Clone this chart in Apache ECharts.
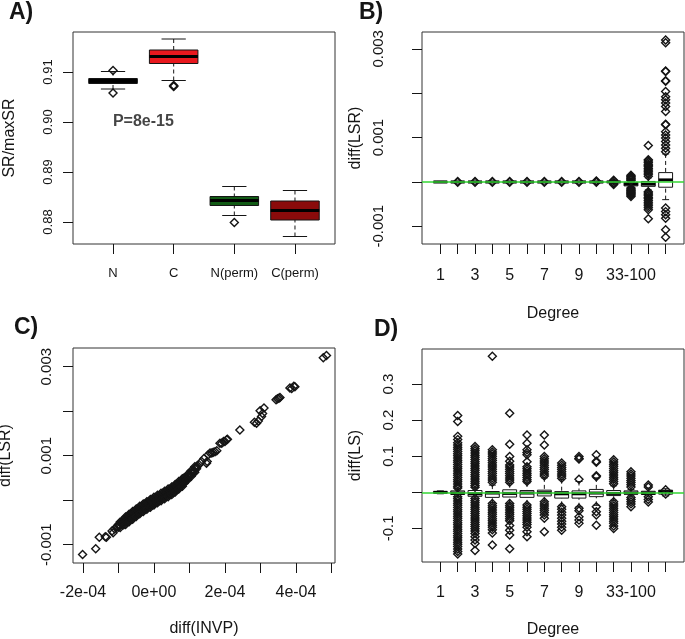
<!DOCTYPE html>
<html><head><meta charset="utf-8">
<script src="https://cdn.jsdelivr.net/npm/echarts@6.0.0/dist/echarts.min.js"></script>
<style>html,body{margin:0;padding:0;background:#fff}#c{width:685px;height:639px}</style>
</head><body><div id="c"></div>
<script>
// ---------------- DATA ----------------
// Panel A
const aCats = ['N', 'C', 'N(perm)', 'C(perm)'];
// [whiskerLow, q1, median, q3, whiskerHigh]
const aBoxStats = [
  [0.9066, 0.9077, 0.9082, 0.9087, 0.9101],
  [0.9083, 0.9117, 0.9131, 0.9144, 0.9166],
  [0.8813, 0.8833, 0.8843, 0.8851, 0.8871],
  [0.8771, 0.8804, 0.8823, 0.8842, 0.8863]
];
const aOutliers = [[0.9103, 0.9058], [0.9071, 0.9072, 0.9073], [0.8799], []];
const aYTicks = [0.88, 0.89, 0.90, 0.91];
const aNote = 'P=8e-15';
const aNotePos = [1.5, 0.90];

// Panels B & D share the degree classes
const degreeTickLabels = ['1', '', '3', '', '5', '', '7', '', '9', '', '', '33-100', '', ''];

// Panel B
const bBoxStats = [
  [-0.00001, -0.000005, 0, 0.000005, 0.00001],
  [-0.000008, -0.000004, 0, 0.000004, 0.000008],
  [-0.000008, -0.000004, 0, 0.000004, 0.000008],
  [-0.000008, -0.000004, 0, 0.000004, 0.000008],
  [-0.000008, -0.000004, 0, 0.000004, 0.000008],
  [-0.000008, -0.000004, 0, 0.000004, 0.000008],
  [-0.000008, -0.000004, 0, 0.000004, 0.000008],
  [-0.000008, -0.000004, 0, 0.000004, 0.000008],
  [-0.000008, -0.000004, 0, 0.000004, 0.000008],
  [-0.000008, -0.000004, 0, 0.000004, 0.000008],
  [-0.00002, -0.00001, 0, 0.00001, 0.00002],
  [-0.00012, -0.00009, -0.00005, -0.00001, 0.00002],
  [-0.00018, -0.00010, -0.00005, 0.00001, 0.00009],
  [-0.00040, -0.00012, 0.000045, 0.00021, 0.00063]
];
const bOutliers = [
  [],
  [0.00001, -0.00001], [0.00001, -0.00001], [0.00001, -0.00001], [0.00001, -0.00001],
  [0.00001, -0.00001], [0.00001, -0.00001], [0.00001, -0.00001], [0.00001, -0.00001],
  [0.00002, 0.00001, -0.00001],
  [0.00004, 0.00002, -0.00002, -0.00004, -0.00006],
  [0.00015, 0.00013, 0.00011, 0.00009, 0.00007, 0.00005, 0.00003, -0.00014, -0.00016, -0.00018,
   -0.00020, -0.00022, -0.00024, -0.00026, -0.00028, -0.00030, -0.00033],
  [0.00082, 0.00050, 0.00047, 0.00044, 0.00040, 0.00037, 0.00034, 0.00030, 0.00027, 0.00024,
   0.00020, 0.00017, 0.00013, -0.00022, -0.00025, -0.00028, -0.00031, -0.00035, -0.00038,
   -0.00042, -0.00046, -0.00050, -0.00054, -0.00058, -0.00063, -0.00083],
  [0.00320, 0.00314, 0.00250, 0.00249, 0.00228, 0.00227, 0.00204, 0.00192, 0.00185, 0.00178,
   0.00170, 0.00159, 0.00130, 0.00129, 0.00113, 0.00106, 0.00099, 0.00091, 0.00083, 0.00076,
   0.00068, -0.00059, -0.00067, -0.00074, -0.00082, -0.00108, -0.00125]
];
const bYTicks = [-0.001, 0, 0.001, 0.002, 0.003];
const bYLabels = [-0.001, 0.001, 0.003];

// Panel C: points as [diff(INVP) in 1e-4, diff(LSR) in 1e-3]
const cPoints = [
  [-2.01,-1.22],[-1.64,-1.09],[-1.54,-0.83],[-1.37,-0.82],[-1.34,-0.83],[-1.15,-0.73],
  [-1.18,-0.69],[-1.11,-0.64],[-1.04,-0.60],[-0.97,-0.56],[-0.90,-0.52],[-0.83,-0.48],
  [-0.76,-0.44],[-0.69,-0.39],[-0.62,-0.35],[-0.55,-0.31],[-0.48,-0.27],[-0.41,-0.23],
  [-0.34,-0.19],[-0.27,-0.16],[-0.20,-0.12],[-0.13,-0.09],[-0.06,-0.05],[0.01,-0.01],
  [0.08,0.02],[0.15,0.05],[0.22,0.08],[0.29,0.11],[0.36,0.15],[0.43,0.18],[0.50,0.21],
  [0.57,0.25],[0.64,0.30],[0.71,0.34],[0.78,0.39],[0.85,0.44],[0.92,0.50],[0.99,0.55],
  [1.06,0.61],[1.13,0.67],[1.20,0.74],[1.27,0.80],[1.34,0.87],[1.41,0.94],
  [-0.95,-0.49],[-0.85,-0.43],[-0.75,-0.37],[-0.65,-0.31],[-0.55,-0.25],[-0.45,-0.19],
  [-0.35,-0.135],[-0.25,-0.085],[-0.15,-0.035],[-0.05,0.015],[0.05,0.063],[0.15,0.109],
  [0.25,0.156],[0.35,0.202],[0.45,0.248],[0.55,0.296],[0.65,0.362],[0.75,0.427],
  [0.85,0.50],[0.95,0.58],[1.05,0.66],[1.15,0.75],
  [-0.95,-0.61],[-0.85,-0.55],[-0.75,-0.49],[-0.65,-0.43],[-0.55,-0.37],[-0.45,-0.31],
  [-0.35,-0.255],[-0.25,-0.205],[-0.15,-0.155],[-0.05,-0.105],[0.05,-0.057],[0.15,-0.011],
  [0.25,0.036],[0.35,0.082],[0.45,0.128],[0.55,0.176],[0.65,0.242],[0.75,0.307],
  [0.85,0.38],[0.95,0.46],[1.05,0.54],[1.15,0.63],
  [-1.00,-0.545],[-0.90,-0.488],[-0.80,-0.43],[-0.70,-0.37],[-0.60,-0.31],[-0.50,-0.25],
  [-0.40,-0.19],[-0.30,-0.14],[-0.20,-0.09],[-0.10,-0.04],[0.00,0.01],[0.10,0.056],
  [0.20,0.103],[0.30,0.149],[0.40,0.195],[0.50,0.241],[0.60,0.299],[0.70,0.365],
  [0.80,0.43],[0.90,0.51],[1.00,0.59],[1.10,0.67],[1.20,0.766],
  [-1.00,-0.605],[-0.90,-0.548],[-0.80,-0.49],[-0.70,-0.43],[-0.60,-0.37],[-0.50,-0.31],
  [-0.40,-0.25],[-0.30,-0.20],[-0.20,-0.15],[-0.10,-0.10],[0.00,-0.05],[0.10,-0.004],
  [0.20,0.043],[0.30,0.089],[0.40,0.135],[0.50,0.181],[0.60,0.239],[0.70,0.305],
  [0.80,0.37],[0.90,0.45],[1.00,0.53],[1.10,0.61],[1.20,0.706],
  [-0.80,-0.375],[-0.70,-0.315],[-0.60,-0.255],[-0.50,-0.195],[-0.40,-0.135],[-0.30,-0.085],
  [-0.20,-0.035],[-0.10,0.015],[0.00,0.065],[0.10,0.111],[0.20,0.158],[0.30,0.204],
  [0.40,0.25],[0.50,0.296],[0.60,0.354],[0.70,0.42],[0.80,0.485],
  [-0.80,-0.545],[-0.70,-0.485],[-0.60,-0.425],[-0.50,-0.365],[-0.40,-0.305],[-0.30,-0.255],
  [-0.20,-0.205],[-0.10,-0.155],[0.00,-0.105],[0.10,-0.059],[0.20,-0.012],[0.30,0.034],
  [0.40,0.08],[0.50,0.126],[0.60,0.184],[0.70,0.25],[0.80,0.315],
  [0.91,0.455],[1.48,0.83],
  [1.50,0.87],[1.53,1.02],[1.58,1.06],[1.63,1.06],[1.67,1.08],[1.72,1.09],[1.77,1.11],
  [1.86,1.28],[1.91,1.28],[1.96,1.32],[2.00,1.32],[2.05,1.36],[2.07,1.37],
  [2.42,1.58],
  [2.83,1.75],[2.89,1.73],[2.94,1.78],[2.99,2.01],[3.03,1.88],[3.06,1.95],[3.10,2.07],
  [3.44,2.26],[3.48,2.28],[3.52,2.29],[3.55,2.31],
  [3.83,2.52],[3.88,2.51],[3.94,2.56],[3.97,2.55],
  [4.77,3.20],[4.86,3.25]
];
const cXTicks = [-2e-4, -1e-4, 0, 1e-4, 2e-4, 3e-4, 4e-4, 5e-4];
const cXLabelVals = [-2e-4, 0, 2e-4, 4e-4];
const cXLabelText = ['-2e-04', '0e+00', '2e-04', '4e-04'];
const cYTicks = [-0.001, 0, 0.001, 0.002, 0.003];
const cYLabels = [-0.001, 0.001, 0.003];

// Panel D
const dBoxStats = [
  [-0.004, -0.002, 0, 0.002, 0.004],
  [-0.012, -0.006, -0.002, 0.004, 0.010],
  [-0.018, -0.011, -0.004, 0.005, 0.013],
  [-0.028, -0.014, -0.002, 0.002, 0.020],
  [-0.030, -0.013, -0.003, 0.007, 0.024],
  [-0.032, -0.014, -0.002, 0.005, 0.026],
  [-0.024, -0.010, -0.001, 0.006, 0.040],
  [-0.036, -0.016, -0.004, 0.002, 0.035],
  [-0.040, -0.016, -0.004, 0.004, 0.030],
  [-0.036, -0.012, -0.002, 0.008, 0.040],
  [-0.022, -0.009, -0.003, 0.005, 0.018],
  [-0.010, -0.005, -0.002, 0.004, 0.008],
  [-0.010, -0.006, -0.002, 0.003, 0.012],
  [-0.010, -0.005, 0.002, 0.006, 0.010]
];
const dOutliers = [
  [],
  [0.213,0.196,0.155,0.146,0.137,0.131,0.125,0.119,0.113,0.107,0.101,0.095,0.089,0.083,0.077,0.071,
   0.065,0.059,0.053,0.047,0.041,0.035,0.029,0.023,0.017,0.012,-0.012,-0.018,-0.024,-0.030,-0.036,
   -0.042,-0.048,-0.054,-0.060,-0.066,-0.072,-0.078,-0.084,-0.090,-0.096,-0.102,-0.108,-0.114,-0.120,
   -0.126,-0.132,-0.138,-0.144,-0.150,-0.157,-0.164,-0.171],
  [0.127,0.121,0.115,0.109,0.103,0.097,0.091,0.085,0.079,0.073,0.067,0.061,0.055,0.049,0.043,0.037,
   0.031,0.025,0.019,0.014,-0.017,-0.023,-0.029,-0.035,-0.041,-0.047,-0.053,-0.059,-0.065,-0.071,
   -0.077,-0.083,-0.089,-0.095,-0.101,-0.107,-0.114,-0.123,-0.132,-0.142,-0.161],
  [0.377,0.118,0.112,0.106,0.100,0.094,0.088,0.082,0.076,0.070,0.064,0.058,0.052,0.046,0.040,0.034,
   0.028,-0.031,-0.037,-0.043,-0.049,-0.055,-0.061,-0.067,-0.073,-0.079,-0.085,-0.091,-0.097,-0.104,
   -0.113,-0.146],
  [0.219,0.133,0.099,0.086,0.076,0.070,0.064,0.058,0.052,0.046,0.040,0.034,0.028,-0.031,-0.037,-0.043,
   -0.049,-0.055,-0.061,-0.067,-0.073,-0.079,-0.092,-0.105,-0.118,-0.156],
  [0.159,0.136,0.118,0.110,0.104,0.085,0.071,0.065,0.059,0.053,0.047,0.041,0.035,0.030,-0.035,-0.041,
   -0.047,-0.053,-0.059,-0.065,-0.071,-0.077,-0.083,-0.089,-0.097,-0.109,-0.123],
  [0.159,0.131,0.099,0.093,0.087,0.081,0.075,0.069,0.063,0.057,0.051,0.045,-0.026,-0.032,-0.038,
   -0.044,-0.050,-0.056,-0.063,-0.072,-0.109],
  [0.081,0.075,0.069,0.063,0.057,0.051,0.045,0.039,-0.040,-0.047,-0.055,-0.063,-0.072,-0.080,-0.088,
   -0.097,-0.105],
  [0.099,0.094,0.092,0.036,-0.044,-0.051,-0.068,-0.077,-0.086],
  [0.104,0.086,0.083,0.046,0.043,-0.040,-0.054,-0.063,-0.091],
  [0.090,0.084,0.078,0.072,0.066,0.060,0.054,0.048,0.042,0.036,0.030,0.024,-0.026,-0.032,-0.038,
   -0.044,-0.050,-0.056,-0.062,-0.068,-0.074,-0.080,-0.086,-0.093,-0.100],
  [0.057,0.051,0.045,0.039,0.033,0.027,0.021,0.015,-0.014,-0.020,-0.026,-0.032,-0.040],
  [0.020,0.015,-0.012,-0.020,-0.027],
  [0.007,-0.005]
];
const dYTicks = [-0.1, 0, 0.1, 0.2, 0.3];
const dYLabels = [-0.1, 0.1, 0.2, 0.3];

// ---------------- STYLE ----------------
const FONT = '"Liberation Sans", Arial, Helvetica, sans-serif';
const INK = '#151515';
const aFills = ['#050505', '#e8181e', '#115a14', '#8a0b0b'];
const GREEN = '#33d633';

// ---------------- BUILD ----------------
const aPos = aCats.map((_, i) => i + 1);
const degPos = degreeTickLabels.map((_, i) => i + 1);
const degLabelPos = degPos.filter((p) => degreeTickLabels[p - 1] !== '');

function boxRows(stats) { return stats.map((s, i) => [i + 1].concat(s)); }
function outlierPairs(list) {
  const out = [];
  list.forEach((vals, i) => vals.forEach((v) => out.push([i + 1, v])));
  return out;
}
function boxRender(fills) {
  return function (params, api) {
    const p = api.value(0), lo = api.value(1), q1 = api.value(2), md = api.value(3), q3 = api.value(4), hi = api.value(5);
    const hw = 0.4, cw = 0.2;
    const tl = api.coord([p - hw, q3]), br = api.coord([p + hw, q1]);
    const top = api.coord([p, hi]), bot = api.coord([p, lo]);
    const q3p = api.coord([p, q3]), q1p = api.coord([p, q1]);
    const cL = api.coord([p - cw, hi])[0], cR = api.coord([p + cw, hi])[0];
    const mL = api.coord([p - hw, md]), mR = api.coord([p + hw, md]);
    const fill = fills ? fills[params.dataIndex] : '#ffffff';
    const dash = { stroke: INK, lineWidth: 1, lineDash: [4, 3] };
    const solid = { stroke: INK, lineWidth: 1 };
    return { type: 'group', children: [
      { type: 'line', shape: { x1: top[0], y1: top[1], x2: q3p[0], y2: q3p[1] }, style: dash },
      { type: 'line', shape: { x1: bot[0], y1: bot[1], x2: q1p[0], y2: q1p[1] }, style: dash },
      { type: 'line', shape: { x1: cL, y1: top[1], x2: cR, y2: top[1] }, style: solid },
      { type: 'line', shape: { x1: cL, y1: bot[1], x2: cR, y2: bot[1] }, style: solid },
      { type: 'rect', shape: { x: tl[0], y: tl[1], width: br[0] - tl[0], height: Math.max(br[1] - tl[1], 1) }, style: { fill: fill, stroke: INK, lineWidth: 1 } },
      { type: 'line', shape: { x1: mL[0], y1: mL[1], x2: mR[0], y2: mR[1] }, style: { stroke: '#000', lineWidth: 3 } }
    ] };
  };
}
function near(arr, v) { return arr.findIndex((a) => Math.abs(a - v) < 1e-9); }

function xAx(grid, min, max, ticks, labels, fmt, margin, fs, name, gap) {
  return {
    gridIndex: grid, type: 'value', min: min, max: max,
    axisLine: { show: false, onZero: false }, splitLine: { show: false },
    axisTick: { show: true, inside: false, length: 10, customValues: ticks, lineStyle: { color: INK, width: 1 } },
    axisLabel: { customValues: labels, formatter: fmt, margin: margin, fontSize: fs, color: INK, fontFamily: FONT, hideOverlap: false },
    name: name || '', nameLocation: 'middle', nameGap: gap || 0,
    nameTextStyle: { fontSize: 16, color: INK, fontFamily: FONT }
  };
}
function yAx(grid, min, max, ticks, labels, fmt, margin, fs, name, gap) {
  return {
    gridIndex: grid, type: 'value', min: min, max: max,
    axisLine: { show: false, onZero: false }, splitLine: { show: false },
    axisTick: { show: true, inside: false, length: 10, customValues: ticks, lineStyle: { color: INK, width: 1 } },
    axisLabel: { customValues: labels, formatter: fmt, margin: margin, rotate: 90, align: 'center', verticalAlign: 'bottom',
      fontSize: fs, color: INK, fontFamily: FONT, hideOverlap: false },
    name: name, nameLocation: 'middle', nameGap: gap, nameMoveOverlap: false,
    nameTextStyle: { fontSize: 16, color: INK, fontFamily: FONT }
  };
}

const gridBase = { show: true, borderColor: '#333', borderWidth: 1, backgroundColor: 'transparent', containLabel: false, outerBoundsMode: 'none' };
const diamond = { type: 'scatter', symbol: 'diamond', symbolSize: 8, silent: true, z: 3,
  itemStyle: { color: 'rgba(0,0,0,0)', borderColor: INK, borderWidth: 1.4, opacity: 1 } };
const greenLine = (xi) => ({ type: 'line', xAxisIndex: xi, yAxisIndex: xi, data: [], z: 5, silent: true,
  markLine: { silent: true, symbol: 'none', label: { show: false }, animation: false,
    lineStyle: { color: GREEN, width: 1.5, type: 'solid' }, data: [{ yAxis: 0 }] } });

const option = {
  animation: false,
  backgroundColor: '#ffffff',
  textStyle: { fontFamily: FONT },
  grid: [
    Object.assign({ left: 73, top: 32, width: 262, height: 212 }, gridBase),
    Object.assign({ left: 422, top: 32, width: 262, height: 212 }, gridBase),
    Object.assign({ left: 73, top: 348, width: 262, height: 215 }, gridBase),
    Object.assign({ left: 422, top: 349, width: 262, height: 213 }, gridBase)
  ],
  xAxis: [
    xAx(0, 0.34, 4.66, aPos, aPos, (v) => aCats[Math.round(v) - 1], 23, 13),
    xAx(1, -0.06, 15.06, degPos, degLabelPos, (v) => degreeTickLabels[Math.round(v) - 1], 24, 16, 'Degree', 62),
    xAx(2, -2.28e-4, 5.10e-4, cXTicks, cXLabelVals, (v) => cXLabelText[near(cXLabelVals, v)], 22, 16, 'diff(INVP)', 58),
    xAx(3, -0.06, 15.06, degPos, degLabelPos, (v) => degreeTickLabels[Math.round(v) - 1], 23, 16, 'Degree', 60)
  ],
  yAxis: [
    yAx(0, 0.8756, 0.918, aYTicks, aYTicks, (v) => v.toFixed(2), 18, 13, 'SR/maxSR', 55),
    yAx(1, -0.0014, 0.00338, bYTicks, bYLabels, (v) => v.toFixed(3), 36, 15, 'diff(LSR)', 58),
    yAx(2, -0.00141, 0.00342, cYTicks, cYLabels, (v) => v.toFixed(3), 19, 15, 'diff(LSR)', 59),
    yAx(3, -0.193, 0.397, dYTicks, dYLabels, (v) => v.toFixed(1), 26, 15, 'diff(LS)', 58)
  ],
  series: [
    { type: 'custom', xAxisIndex: 0, yAxisIndex: 0, z: 2, silent: true, renderItem: boxRender(aFills),
      encode: { x: 0, y: [1, 2, 3, 4, 5] }, data: boxRows(aBoxStats) },
    Object.assign({}, diamond, { xAxisIndex: 0, yAxisIndex: 0, data: outlierPairs(aOutliers) }),
    { type: 'scatter', xAxisIndex: 0, yAxisIndex: 0, silent: true, symbolSize: 1, z: 6,
      itemStyle: { color: 'rgba(0,0,0,0)' }, data: [aNotePos],
      label: { show: true, position: 'inside', formatter: aNote, fontSize: 16, fontWeight: 'bold', color: INK, fontFamily: FONT } },

    { type: 'custom', xAxisIndex: 1, yAxisIndex: 1, z: 2, silent: true, renderItem: boxRender(null),
      encode: { x: 0, y: [1, 2, 3, 4, 5] }, data: boxRows(bBoxStats) },
    Object.assign({}, diamond, { xAxisIndex: 1, yAxisIndex: 1, data: outlierPairs(bOutliers) }),
    greenLine(1),

    Object.assign({}, diamond, { xAxisIndex: 2, yAxisIndex: 2, data: cPoints.map((p) => [p[0] * 1e-4, p[1] * 1e-3]) }),

    { type: 'custom', xAxisIndex: 3, yAxisIndex: 3, z: 2, silent: true, renderItem: boxRender(null),
      encode: { x: 0, y: [1, 2, 3, 4, 5] }, data: boxRows(dBoxStats) },
    Object.assign({}, diamond, { xAxisIndex: 3, yAxisIndex: 3, data: outlierPairs(dOutliers) }),
    greenLine(3)
  ],
  graphic: [
    { type: 'text', left: 9, top: 1, style: { text: 'A)', font: 'bold 23px ' + FONT, fill: INK } },
    { type: 'text', left: 359, top: 1, style: { text: 'B)', font: 'bold 23px ' + FONT, fill: INK } },
    { type: 'text', left: 14, top: 316, style: { text: 'C)', font: 'bold 23px ' + FONT, fill: INK } },
    { type: 'text', left: 374, top: 318, style: { text: 'D)', font: 'bold 23px ' + FONT, fill: INK } }
  ]
};

const chart = echarts.init(document.getElementById('c'), null, { renderer: 'canvas' });
chart.setOption(option);
</script></body></html>
